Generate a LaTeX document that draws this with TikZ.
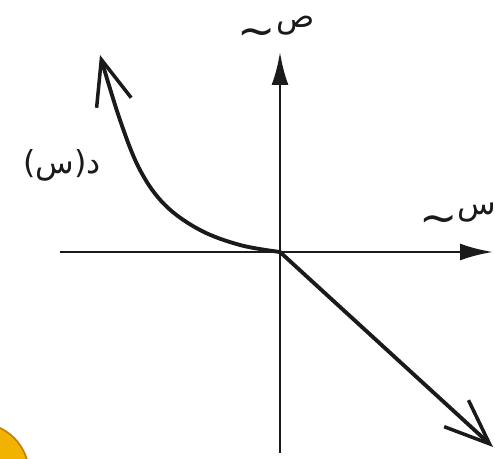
\documentclass[tikz,border=0pt]{standalone}
\usepackage{fontspec}
\newfontfamily\arabicfont[Script=Arabic]{DejaVu Sans}
\TeXXeTstate=1
\usepackage{tikz}
\usetikzlibrary{arrows.meta}
\definecolor{GraphInk}{HTML}{1A1A1A}
\definecolor{BlobGold}{HTML}{F2B300}
\definecolor{BlobEdge}{HTML}{C8800A}
\newcommand{\wavy}{{\fontsize{26}{26}\selectfont\raisebox{-0.42em}{\textasciitilde}}}

\begin{document}
\begin{tikzpicture}[
        x=0.02cm, y=-0.02cm,
        axis/.style={
            -{Latex[length=0.66cm,width=0.34cm]},
            line width=1.7pt,
            draw=GraphInk
        },
        graph/.style={
            -{Straight Barb[length=0.9cm,width=0.72cm,line width=2pt]},
            line width=2.2pt,
            draw=GraphInk
        },
        axislabel/.style={
            inner sep=0pt,
            text=GraphInk,
            font=\arabicfont\fontsize{18}{18}\selectfont
        }
    ]
        \useasboundingbox (0,0) rectangle (495,459);
        \begin{scope}
            \clip (0,0) rectangle (495,459);
            \fill[BlobGold, draw=BlobEdge, line width=1pt] (-22,474) circle[radius=51];
        \end{scope}

        \coordinate (origin) at (280,252);
        \coordinate (xstart) at (60,252);
        \coordinate (xend) at (493,252);
        \coordinate (ystart) at (280,453);
        \coordinate (yend) at (280,52);
        \coordinate (curveend) at (100,55);
        \coordinate (lineend) at (493,447);

        \draw[axis] (xstart) -- (xend);
        \draw[axis] (ystart) -- (yend);
        \draw[graph] plot[smooth, tension=0.6] coordinates
            {(280,252) (240,245) (200,230) (165,205) (140,170) (120,120) (100,55)};
        \draw[graph] (origin) -- (lineend);

        \node[axislabel] (ylabel) at (276,31) {\beginR ص\wavy\endR};
        \node[axislabel] (xlabel) at (458,218) {\beginR س\wavy\endR};
        \node[axislabel] (flabel) at (62,165) {\beginR د(س)\endR};
    \end{tikzpicture}
\end{document}
